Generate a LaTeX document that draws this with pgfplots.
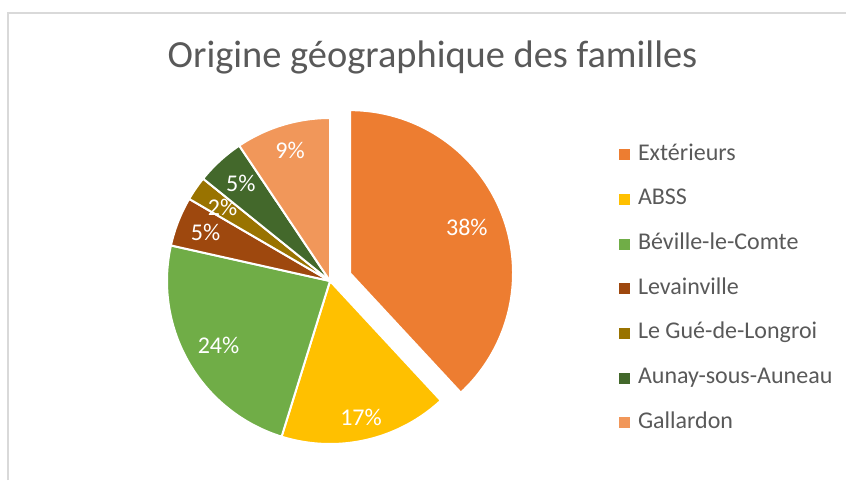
\documentclass[border=0pt]{standalone}
\usepackage{pgfplots}
\pgfplotsset{compat=1.18}
\usepackage{pgfplotstable}
\usepackage{fontspec}
\setmainfont{Carlito}
\definecolor{c1}{HTML}{ED7D31}
\definecolor{c2}{HTML}{FFC000}
\definecolor{c3}{HTML}{70AD47}
\definecolor{c4}{HTML}{9E480E}
\definecolor{c5}{HTML}{997300}
\definecolor{c6}{HTML}{43682B}
\definecolor{c7}{HTML}{F1975A}
\definecolor{txt}{HTML}{595959}
\definecolor{frame}{HTML}{D9D9D9}

\pgfplotstableread[col sep=comma]{
name,value,color,explode,lr
Extérieurs,38.1,c1,1,0.77
ABSS,16.7,c2,0,0.86
Béville-le-Comte,23.7,c3,0,0.79
Levainville,4.9,c4,0,0.82
Le Gué-de-Longroi,2.4,c5,0,0.80
Aunay-sous-Auneau,4.8,c6,0,0.81
Gallardon,9.4,c7,0,0.84
}\piedata

\begin{document}
\begin{tikzpicture}
\pgfplotstablegetrowsof{\piedata}
\pgfmathtruncatemacro\N{\pgfplotsretval-1}
\begin{axis}[
  at={(0,0)}, anchor=south west,
  scale only axis, width=634.5pt, height=360pt,
  xmin=0, xmax=846, ymin=0, ymax=480,
  hide axis, clip=false,
  legend image code/.code={\fill[#1,draw=none] (0pt,-4.125pt) rectangle (8.25pt,4.125pt);},
  legend cell align=left,
  legend style={at={(axis cs:619,336)}, anchor=north west, draw=none, fill=none,
    inner sep=0pt, outer sep=0pt, row sep=17.5pt, column sep=6pt,
    font=\fontsize{18pt}{20pt}\selectfont, text=txt,
    nodes={inner sep=0pt, text height=12pt, text depth=4pt}},
]
\draw[frame, line width=1.2pt] (axis cs:8,0) -- (axis cs:8,467) -- (axis cs:846,467);
\node[anchor=base, text=txt, font=\fontsize{28.8pt}{31pt}\selectfont] at (axis cs:432.5,413) {Origine géographique des familles};
\def\cum{0}
\pgfplotsforeachungrouped \i in {0,...,\N}{%
  \pgfplotstablegetelem{\i}{value}\of\piedata \let\val\pgfplotsretval
  \pgfplotstablegetelem{\i}{color}\of\piedata \let\col\pgfplotsretval
  \pgfplotstablegetelem{\i}{name}\of\piedata \let\nm\pgfplotsretval
  \pgfplotstablegetelem{\i}{explode}\of\piedata \let\ex\pgfplotsretval
  \pgfplotstablegetelem{\i}{lr}\of\piedata \let\lr\pgfplotsretval
  \pgfmathsetmacro\aS{90-3.6*\cum}%
  \pgfmathsetmacro\aE{90-3.6*(\cum+\val)}%
  \pgfmathsetmacro\aM{(\aS+\aE)/2}%
  \pgfmathsetmacro\cx{330+\ex*21.5*cos(\aM)}%
  \pgfmathsetmacro\cy{199+\ex*21.5*sin(\aM)}%
  \pgfmathsetmacro\lx{\cx+\lr*163*cos(\aM)}%
  \pgfmathsetmacro\ly{\cy+\lr*163*sin(\aM)}%
  \pgfmathtruncatemacro\pct{round(\val)}%
  \edef\doplot{%
    \noexpand\addplot[fill=\col, draw=white, line width=1.5pt, domain=\aE:\aS, samples=90, variable=\noexpand\t]
      ({\cx+163*cos(\noexpand\t)},{\cy+163*sin(\noexpand\t)}) -- (axis cs:\cx,\cy) -- cycle;
    \noexpand\addlegendentry{\nm}
    \noexpand\node[text=white, font=\noexpand\fontsize{18pt}{20pt}\noexpand\selectfont] at (axis cs:\lx,\ly) {\pct\noexpand\%};
  }%
  \doplot
  \pgfmathsetmacro\cum{\cum+\val}%
}
\coordinate (BL) at (axis cs:0,0);
\coordinate (TR) at (axis cs:846,480);
\end{axis}
\pgfresetboundingbox
\path[use as bounding box] (BL) rectangle (TR);
\end{tikzpicture}
\end{document}
